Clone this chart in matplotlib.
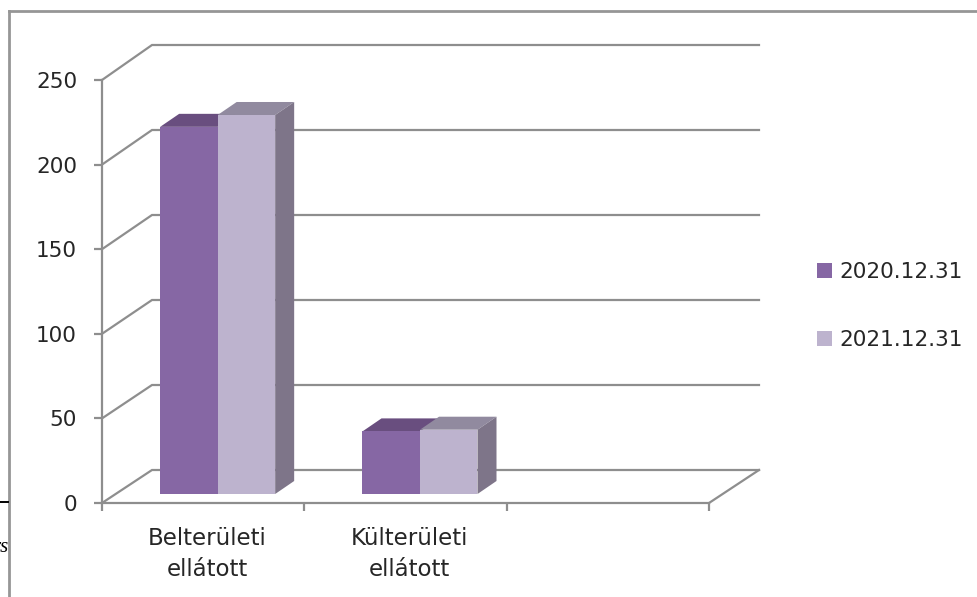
import matplotlib
matplotlib.use("Agg")
import matplotlib.pyplot as plt
from matplotlib.patches import Polygon
from matplotlib.lines import Line2D

categories = ["Belterületi\nellátott", "Külterületi\nellátott"]
series_names = ["2020.12.31", "2021.12.31"]
values_2020 = [217, 37]
values_2021 = [224, 38]
y_ticks = [0, 50, 100, 150, 200, 250]

W, H = 977, 597
GRAY = "#8E8E8E"
TXT = "#262626"
FRONT = ["#8667A4", "#BDB3CE"]
TOP = ["#694E7F", "#918A9F"]
SIDE = "#7E7589"
FONT = "DejaVu Sans"

fig = plt.figure(figsize=(W / 100, H / 100), dpi=100, facecolor="white")
L, R, T, B = 102, 709, 80, 503
ax = fig.add_axes([L / W, 1 - B / H, (R - L) / W, (B - T) / H])
ax.set_xlim(0, 3)
ax.set_ylim(0, 250)
ax.patch.set_alpha(0)
px_x = 3 / (R - L)
px_y = 250 / (B - T)

# 3D walls
dx = 50 * px_x
for v in y_ticks:
    dy = (33 + 2 * v / 250) * px_y
    ax.plot([0, dx, 3 + dx], [v, v + dy, v + dy], color=GRAY, lw=1.6, clip_on=False,
            solid_joinstyle="miter", zorder=1)
ax.plot([3, 3 + dx], [0, 33 * px_y], color=GRAY, lw=1.6, clip_on=False, zorder=1)

# Bars with their depth faces
bw = 57.5 * px_x
bar_dx, bar_dy = 19 * px_x, 13 * px_y
base = 9 * px_y
shift = 14.5 * px_x
for s, vals in enumerate([values_2020, values_2021]):
    xs = [i + 0.5 + shift + (s - 0.5) * bw for i in range(len(categories))]
    ax.bar(xs, vals, width=bw, bottom=base, color=FRONT[s], edgecolor="none", zorder=4 + s,
           clip_on=False, label=series_names[s])
    for x, v in zip(xs, vals):
        x0, x1 = x - bw / 2, x + bw / 2
        t = v + base
        ax.add_patch(Polygon([(x0, t), (x1, t), (x1 + bar_dx, t + bar_dy), (x0 + bar_dx, t + bar_dy)],
                             closed=True, fc=TOP[s], ec="none", zorder=3 + s, clip_on=False))
        if s == 1:
            ax.add_patch(Polygon([(x1, base), (x1 + bar_dx, base + bar_dy), (x1 + bar_dx, t + bar_dy), (x1, t)],
                                 closed=True, fc=SIDE, ec="none", zorder=3 + s, clip_on=False))

# Axes
for side in ["top", "right"]:
    ax.spines[side].set_visible(False)
for side in ["left", "bottom"]:
    ax.spines[side].set_color(GRAY)
    ax.spines[side].set_linewidth(1.6)
ax.set_yticks(y_ticks)
ax.set_xticks([0, 1, 2, 3])
ax.set_xticklabels([])
ax.set_xticks([i + 0.5 + 4 * px_x for i in range(len(categories))], minor=True)
ax.set_xticklabels(categories, minor=True, fontsize=16.5, family=FONT, color=TXT, linespacing=1.45)
ax.tick_params(axis="x", which="major", length=6, width=1.6, color=GRAY)
ax.tick_params(axis="x", which="minor", length=0, pad=17)
ax.tick_params(axis="y", length=6, width=1.6, color=GRAY, pad=12)
for lab in ax.get_yticklabels():
    lab.set_fontsize(15.5)
    lab.set_family(FONT)
    lab.set_color(TXT)

# Legend
handles, labels = ax.get_legend_handles_labels()
leg = fig.legend(handles, labels, loc="center left", bbox_to_anchor=(806 / W, 1 - 306 / H),
                 frameon=False, handlelength=0.7, handleheight=0.7, handletextpad=0.35,
                 labelspacing=2.2, borderpad=0.5, borderaxespad=0,
                 prop={"family": FONT, "size": 15.6}, labelcolor=TXT)

# Outer frame and the page fragments to its left
fig.add_artist(Line2D([9 / W, 9 / W], [0, 1 - 11 / H], color="#969696", lw=2))
fig.add_artist(Line2D([9 / W, 1], [1 - 11 / H, 1 - 11 / H], color="#969696", lw=2))
fig.add_artist(Line2D([0, 8 / W], [1 - 502 / H, 1 - 502 / H], color="black", lw=1.4))
fig.text(8 / W, 1 - 547 / H, "rs", ha="right", va="center", family="Liberation Serif",
         style="italic", fontsize=15, color="black")

fig.savefig("out.png", dpi=100)
